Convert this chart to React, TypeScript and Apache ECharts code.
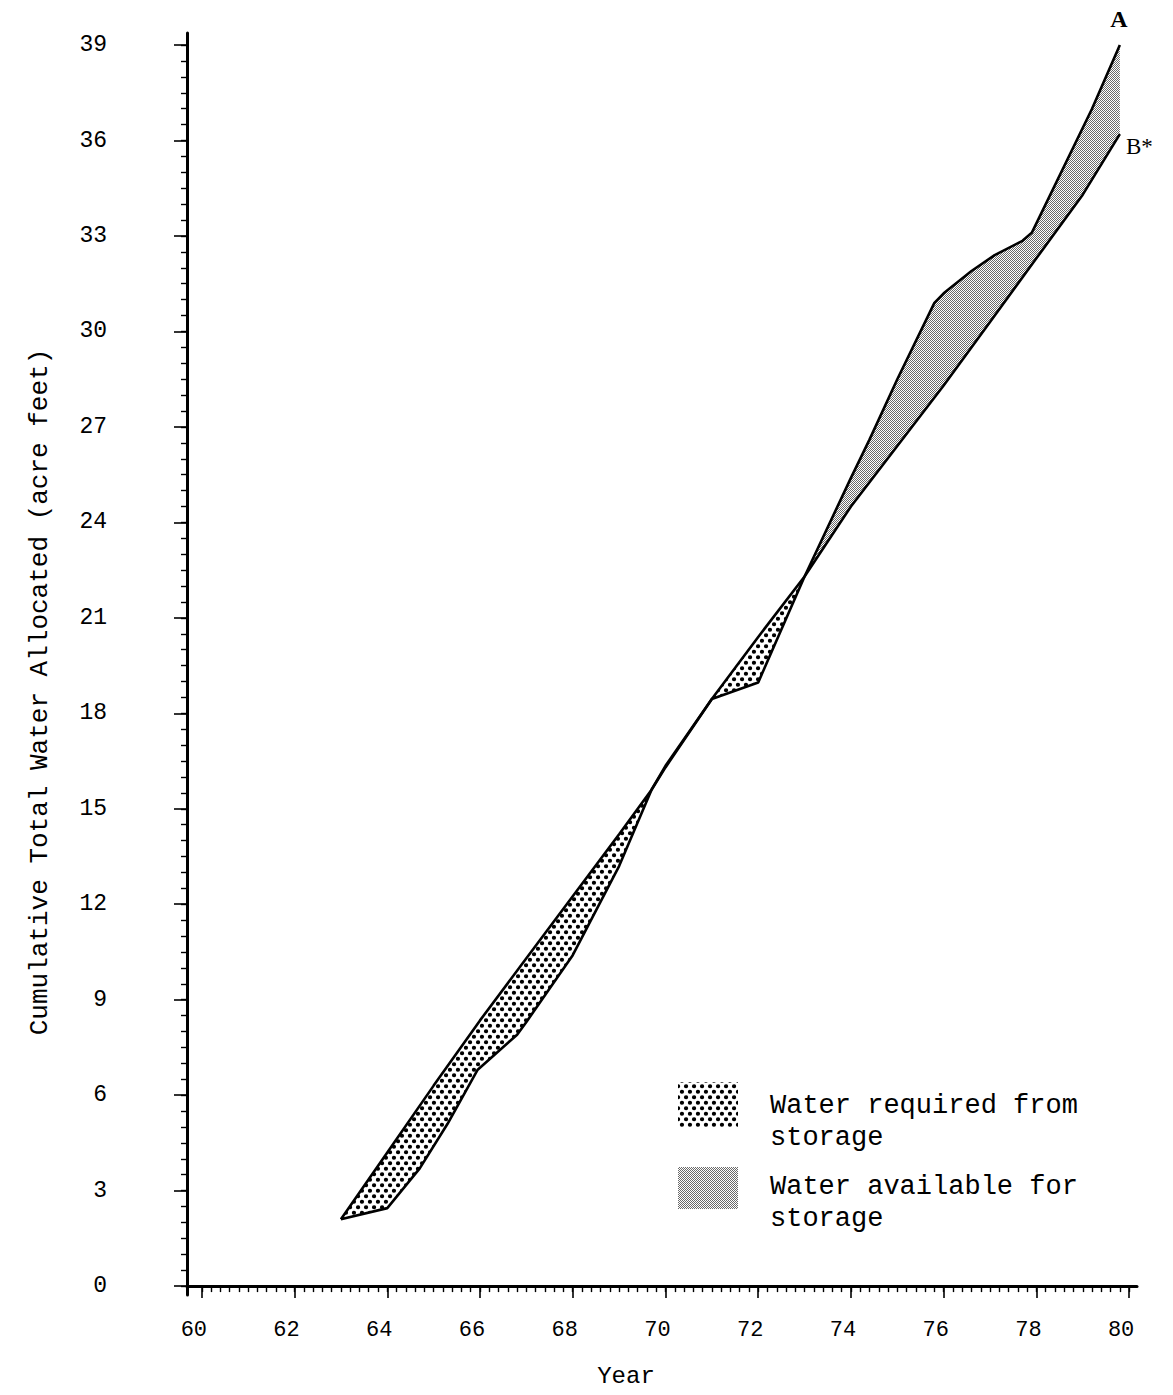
import React, { useEffect, useRef } from 'react';
import * as echarts from 'echarts';

// Cumulative total water allocated, line A (ends at 39) – [year, acre feet]
const lineA: [number, number][] = [
  [63, 2.1], [64, 2.45], [64.7, 3.7], [65.3, 5.1], [65.95, 6.8], [66.8, 7.9], [67, 8.3], [68, 10.4], [69, 13.2],
  [69.7, 15.6], [70, 16.3], [71, 18.45], [72, 18.97], [73, 22.3], [74, 25.4], [74.4, 26.6], [75, 28.5],
  [75.8, 30.9], [76, 31.2], [76.6, 31.9], [77.1, 32.4], [77.7, 32.85], [77.9, 33.1], [79.2, 37.0], [79.8, 39.0],
];
// Line B* (ends at about 36)
const lineB: [number, number][] = [
  [63, 2.1], [64, 4.2], [65, 6.3], [66, 8.35], [67, 10.3], [68, 12.25], [69, 14.2], [69.7, 15.6],
  [70, 16.35], [71, 18.45], [72, 20.4], [73, 22.3], [74, 24.5], [75, 26.4], [76, 28.3], [77, 30.3],
  [78, 32.3], [79, 34.3], [79.8, 36.2],
];

// Shaded bands between the two lines
const bandStart = [63, 71, 73];
const bandEnd = [69.7, 73, 79.8];
const bandKind = ['required', 'required', 'available'];

const legendNames = ['Water required from\nstorage', 'Water available for\nstorage'];

const xMajorTicks = [60, 62, 64, 66, 68, 70, 72, 74, 76, 78, 80];
const yMajorTicks = [0, 3, 6, 9, 12, 15, 18, 21, 24, 27, 30, 33, 36, 39];

const yTitle = 'Cumulative Total Water Allocated (acre feet)';
const xTitle = 'Year';

function range(a: number, b: number, step: number): number[] {
  const out: number[] = [];
  const n = Math.round((b - a) / step);
  for (let i = 0; i <= n; i++) out.push(Math.round((a + i * step) * 1000) / 1000);
  return out;
}

function makePatterns() {
  const dark = document.createElement('canvas');
  dark.width = 8;
  dark.height = 11;
  const g = dark.getContext('2d')!;
  g.fillStyle = '#ffffff';
  g.fillRect(0, 0, 8, 11);
  g.fillStyle = '#000000';
  const dot = (x: number, y: number) => {
    g.beginPath();
    g.arc(x, y, 2.1, 0, Math.PI * 2);
    g.fill();
  };
  dot(2, 2.75);
  dot(6, 8.25);
  dot(-2, 8.25);
  dot(10, 2.75);
  dot(2, 13.75);
  dot(6, -2.75);

  const light = document.createElement('canvas');
  light.width = 2;
  light.height = 2;
  const h = light.getContext('2d')!;
  h.fillStyle = '#ffffff';
  h.fillRect(0, 0, 2, 2);
  h.fillStyle = '#6a6a6a';
  h.fillRect(0, 0, 1, 1);
  h.fillRect(1, 1, 1, 1);

  return {
    required: { image: dark.toDataURL(), repeat: 'repeat', imageWidth: 8, imageHeight: 11 },
    available: { image: light.toDataURL(), repeat: 'repeat', imageWidth: 2, imageHeight: 2 },
  } as Record<string, any>;
}

const MONO = '"Liberation Mono", "DejaVu Sans Mono", monospace';
const SERIF = '"Liberation Serif", "DejaVu Serif", serif';

export default function App() {
  const ref = useRef<HTMLDivElement>(null);

  useEffect(() => {
    if (!ref.current) return;
    const chart = echarts.init(ref.current, undefined, { renderer: 'svg' });
    const patterns = makePatterns();

    const xMin = 59.68, xMax = 80.17, yMin = -0.28, yMax = 39.38;

    const option: any = {
      animation: false,
      backgroundColor: '#ffffff',
      grid: { left: 187, right: 36, top: 33, bottom: 100, containLabel: false, outerBoundsMode: 'none' },
      xAxis: [
        {
          type: 'value', min: xMin, max: xMax, position: 'bottom',
          axisLine: { show: true, lineStyle: { color: '#000', width: 3 } },
          axisTick: { show: true, customValues: xMajorTicks, length: 12, lineStyle: { color: '#000', width: 1.6 } },
          axisLabel: {
            show: true, customValues: xMajorTicks, margin: 24, color: '#000', fontSize: 22,
            fontFamily: MONO, padding: [0, 16, 0, 0],
          },
          splitLine: { show: false },
        },
        {
          type: 'value', min: xMin, max: xMax, position: 'bottom',
          axisLine: { show: false },
          axisTick: { show: true, customValues: range(60, 80, 0.2), length: 6, lineStyle: { color: '#000', width: 1.4 } },
          axisLabel: { show: false },
          splitLine: { show: false },
        },
      ],
      yAxis: [
        {
          type: 'value', min: yMin, max: yMax, position: 'left',
          axisLine: { show: true, lineStyle: { color: '#000', width: 3 } },
          axisTick: { show: true, customValues: yMajorTicks, length: 13, lineStyle: { color: '#000', width: 1.6 } },
          axisLabel: {
            show: true, customValues: yMajorTicks, margin: 80, color: '#000', fontSize: 23, fontFamily: MONO,
          },
          splitLine: { show: false },
        },
        {
          type: 'value', min: yMin, max: yMax, position: 'left',
          axisLine: { show: false },
          axisTick: { show: true, customValues: range(0, 39, 0.5), length: 6, lineStyle: { color: '#000', width: 1.4 } },
          axisLabel: { show: false },
          splitLine: { show: false },
        },
      ],
      series: [
        {
          type: 'custom',
          name: 'bands',
          xAxisIndex: 0,
          yAxisIndex: 0,
          z: 2,
          silent: true,
          data: bandStart.map((s, i) => [s, bandEnd[i], 0]),
          encode: { x: [0, 1], y: 2 },
          renderItem: (params: any, api: any) => {
            const x0 = api.value(0);
            const x1 = api.value(1);
            const kind = bandKind[params.dataIndex];
            const a = lineA.filter((p) => p[0] >= x0 - 1e-9 && p[0] <= x1 + 1e-9);
            const b = lineB.filter((p) => p[0] >= x0 - 1e-9 && p[0] <= x1 + 1e-9).slice().reverse();
            const pts = [...a, ...b].map((p) => api.coord(p));
            return {
              type: 'polygon',
              shape: { points: pts },
              style: { fill: patterns[kind], stroke: null },
            };
          },
        },
        {
          type: 'line', name: 'A', xAxisIndex: 0, yAxisIndex: 0, z: 3,
          data: lineA, showSymbol: false, symbol: 'none',
          lineStyle: { color: '#000', width: 2.6 },
        },
        {
          type: 'line', name: 'B*', xAxisIndex: 0, yAxisIndex: 0, z: 3,
          data: lineB, showSymbol: false, symbol: 'none',
          lineStyle: { color: '#000', width: 2.6 },
        },
      ],
      graphic: [
        {
          type: 'text', x: 40, y: 692, rotation: Math.PI / 2,
          style: { text: yTitle, font: `26px ${MONO}`, fill: '#000', align: 'center', verticalAlign: 'middle' },
        },
        {
          type: 'text', x: 626, y: 1376,
          style: { text: xTitle, font: `24px ${MONO}`, fill: '#000', align: 'center', verticalAlign: 'middle' },
        },
        {
          type: 'text', x: 1119, y: 19,
          style: { text: 'A', font: `bold 24px ${SERIF}`, fill: '#000', align: 'center', verticalAlign: 'middle' },
        },
        {
          type: 'text', x: 1126, y: 146,
          style: { text: 'B*', font: `23px ${SERIF}`, fill: '#000', align: 'left', verticalAlign: 'middle' },
        },
        {
          type: 'rect', shape: { x: 678, y: 1082, width: 60, height: 45 },
          style: { fill: patterns.required, stroke: null },
        },
        {
          type: 'rect', shape: { x: 678, y: 1167, width: 60, height: 42 },
          style: { fill: patterns.available, stroke: null },
        },
        {
          type: 'text', x: 770, y: 1122,
          style: { text: legendNames[0], font: `27px ${MONO}`, lineHeight: 32, fill: '#000', align: 'left', verticalAlign: 'middle' },
        },
        {
          type: 'text', x: 770, y: 1203,
          style: { text: legendNames[1], font: `27px ${MONO}`, lineHeight: 32, fill: '#000', align: 'left', verticalAlign: 'middle' },
        },
      ],
    };

    chart.setOption(option);
    return () => chart.dispose();
  }, []);

  return (
    <div
      ref={ref}
      style={{ position: 'absolute', left: 0, top: 0, width: 1173, height: 1395, background: '#fff' }}
    />
  );
}
